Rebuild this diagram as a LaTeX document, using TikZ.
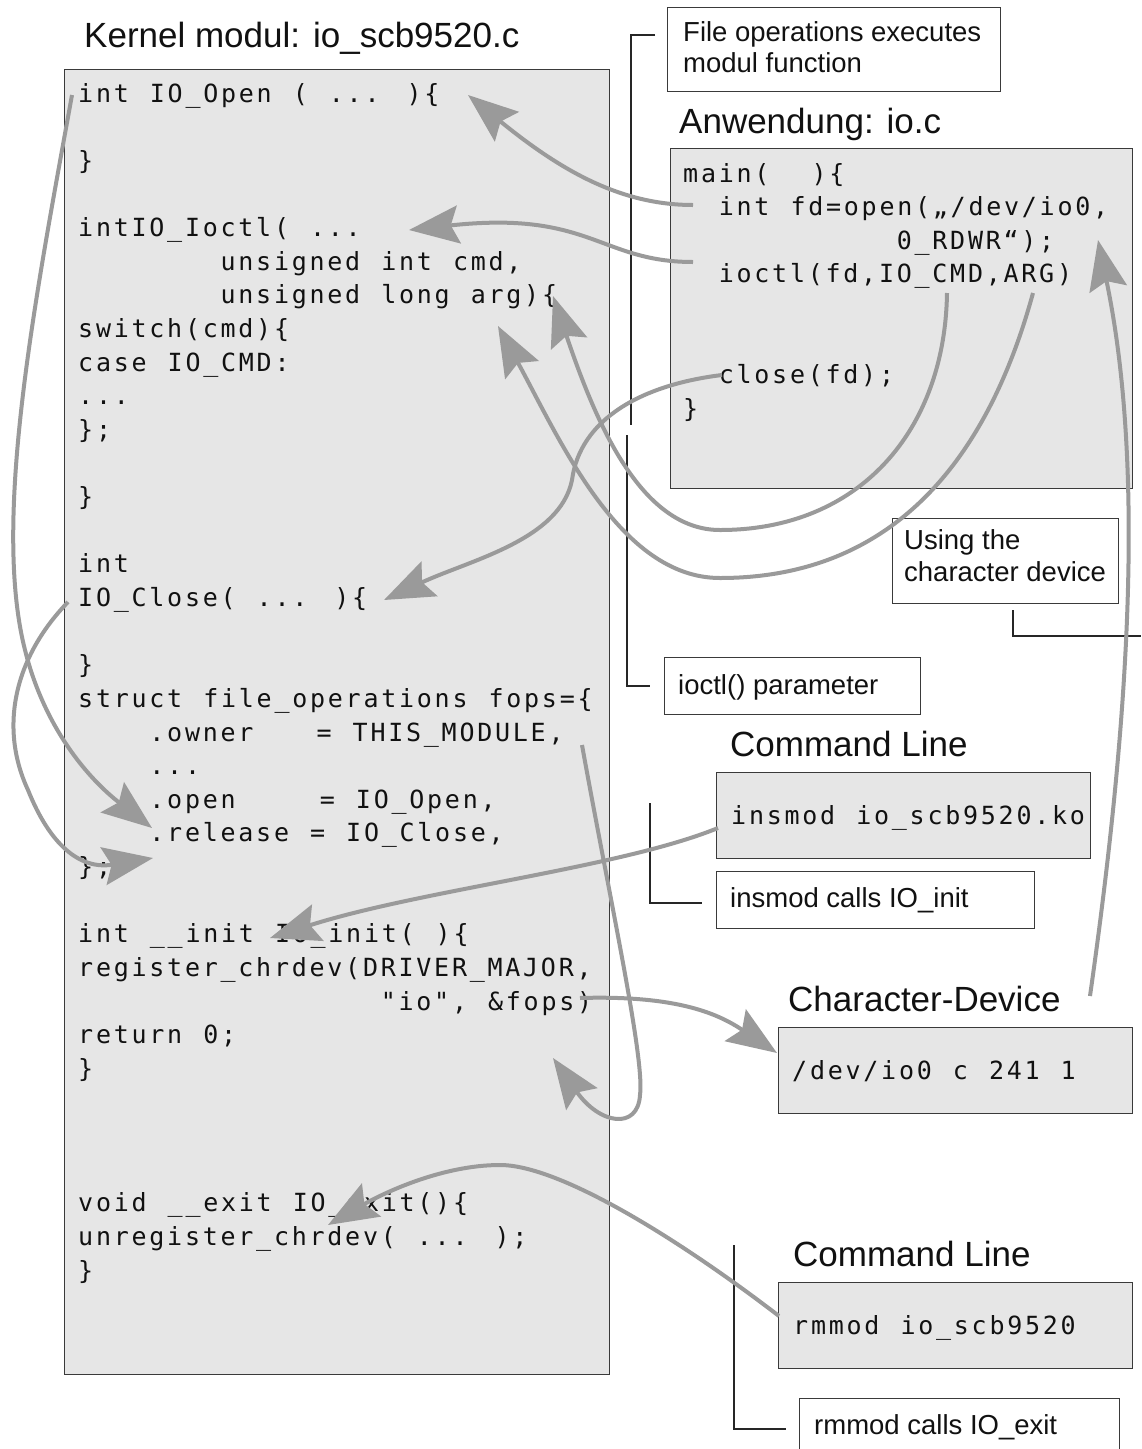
\documentclass[tikz,border=0pt]{standalone}
\usepackage{fontspec}
\setmainfont{Liberation Sans}
\newfontfamily\codefont[LetterSpace=11,WordSpace=1.183]{DejaVu Sans Mono}
\usetikzlibrary{arrows.meta}
\definecolor{boxfill}{HTML}{E6E6E6}
\definecolor{boxline}{HTML}{3A3A3A}
\definecolor{arrowgray}{HTML}{9A9A9A}
\definecolor{txt}{HTML}{111111}
\begin{document}
\begin{tikzpicture}[x=1pt,y=-1pt,
 code/.style={font={\codefont\fontsize{25pt}{30pt}\selectfont}, inner sep=0pt, anchor=base west, text=txt},
 title/.style={font={\fontsize{35pt}{40pt}\selectfont}, inner sep=0pt, anchor=base west, text=txt},
 lbl/.style={font={\fontsize{27.5pt}{32pt}\selectfont}, inner sep=0pt, anchor=base west, text=txt},
 codebox/.style={draw=boxline, line width=1.3pt, fill=boxfill, anchor=north west, inner sep=0pt},
 notebox/.style={draw=boxline, line width=1.3pt, fill=white, anchor=north west, inner sep=0pt},
 callout/.style={draw=black!85, line width=1.2pt},
 flow/.style={draw=arrowgray, line width=4pt, -{Stealth[length=50pt,width=38pt,inset=8pt]}},
]
\useasboundingbox[fill=white] (0,0) rectangle (1141,1449);

% ---------- boxes ----------
\node[codebox, minimum width=545pt, minimum height=1305pt] (kbox) at (64,69) {};
\node[codebox, minimum width=462pt, minimum height=340pt] (abox) at (670,148) {};
\node[notebox, minimum width=333pt, minimum height=84pt] (fobox) at (667,7) {};
\node[notebox, minimum width=226pt, minimum height=85pt] (usebox) at (892,518) {};
\node[notebox, minimum width=256pt, minimum height=57pt] (ioctlbox) at (664,657) {};
\node[codebox, minimum width=374pt, minimum height=86pt] (insbox) at (716,772) {};
\node[notebox, minimum width=318pt, minimum height=57pt] (inscallbox) at (716,871) {};
\node[codebox, minimum width=354pt, minimum height=86pt] (devbox) at (778,1027) {};
\node[codebox, minimum width=354pt, minimum height=86pt] (rmbox) at (778,1282) {};
\node[notebox, minimum width=320pt, minimum height=70pt] (rmcallbox) at (799,1398) {};

% ---------- titles and labels ----------
\node[title] (ktitle) at (84,47) {Kernel modul: io\_scb9520.c};
\node[title] (atitle) at (679,133) {Anwendung: io.c};
\node[title] (cltitle1) at (730,756) {Command Line};
\node[title] (cdtitle) at (788,1011) {Character-Device};
\node[title] (cltitle2) at (793,1266) {Command Line};

\node[lbl] (fo1) at (683,41) {File operations executes};
\node[lbl] (fo2) at (683,72) {modul function};
\node[lbl] (use1) at (904,549) {Using the};
\node[lbl] (use2) at (904,581) {character device};
\node[lbl] (ioctllbl) at (678,694) {ioctl() parameter};
\node[lbl] (inslbl) at (730,907) {insmod calls IO\_init};
\node[lbl] (rmlbl) at (814,1434) {rmmod calls IO\_exit};

% ---------- kernel code (baseline 102 + 33.63 i, column 17.8) ----------
\node[code] (k0) at (78,102) {int IO\_Open ( ... )\{};
\node[code] (k2) at (78,169.3) {\}};
\node[code] (k4) at (78,236.5) {intIO\_Ioctl( ...};
\node[code] (k5) at (220.4,270.2) {unsigned int cmd,};
\node[code] (k6) at (220.4,303.8) {unsigned long arg)\{};
\node[code] (k7) at (78,337.4) {switch(cmd)\{};
\node[code] (k8) at (78,371) {case IO\_CMD:};
\node[code] (k9) at (78,404.7) {...};
\node[code] (k10) at (78,438.3) {\};};
\node[code] (k12) at (78,505.6) {\}};
\node[code] (k14) at (78,572.8) {int};
\node[code] (k15) at (78,606.5) {IO\_Close( ... )\{};
\node[code] (k17) at (78,673.7) {\}};
\node[code] (k18) at (78,707.3) {struct file\_operations fops=\{};
\node[code] (k19) at (149.2,741) {.owner~~~=~THIS\_MODULE,};
\node[code] (k20) at (149.2,774.6) {...};
\node[code] (k21) at (149.2,808.2) {.open~~~~=~IO\_Open,};
\node[code] (k22) at (149.2,841.9) {.release~=~IO\_Close,};
\node[code] (k23) at (78,875.5) {\};};
\node[code] (k25) at (78,942.8) {int \_\_init IO\_init( )\{};
\node[code] (k26) at (78,976.4) {register\_chrdev(DRIVER\_MAJOR,};
\node[code] (k27) at (380.6,1010) {"io", \&fops)};
\node[code] (k28) at (78,1043.6) {return 0;};
\node[code] (k29) at (78,1077.3) {\}};
\node[code] (k33) at (78,1211.8) {void \_\_exit IO\_exit()\{};
\node[code] (k34) at (78,1245.4) {unregister\_chrdev( ... );};
\node[code] (k35) at (78,1279.1) {\}};

% ---------- application code ----------
\node[code] (a0) at (683,182) {main(~~)\{};
\node[code] (a1) at (718.6,215.6) {int fd=open(„/dev/io0,};
\node[code] (a2) at (896.6,249.3) {0\_RDWR“);};
\node[code] (a3) at (718.6,282.9) {ioctl(fd,IO\_CMD,ARG)};
\node[code] (a6) at (718.6,383.8) {close(fd);};
\node[code] (a7) at (683,417.4) {\}};

% ---------- command code ----------
\node[code] (ins) at (731,824) {insmod io\_scb9520.ko};
\node[code] (dev) at (792,1079) {/dev/io0 c 241 1};
\node[code] (rm) at (793,1334) {rmmod io\_scb9520};

% ---------- callout brackets ----------
\coordinate (c1a) at (655,35); \coordinate (c1b) at (631,35); \coordinate (c1c) at (631,425);
\draw[callout] (c1a) -- (c1b) -- (c1c);
\coordinate (c2a) at (627,435); \coordinate (c2b) at (627,686); \coordinate (c2c) at (650,686);
\draw[callout] (c2a) -- (c2b) -- (c2c);
\coordinate (c3a) at (1013,610); \coordinate (c3b) at (1013,636); \coordinate (c3c) at (1141,636);
\draw[callout] (c3a) -- (c3b) -- (c3c);
\coordinate (c4a) at (650,803); \coordinate (c4b) at (650,903); \coordinate (c4c) at (702,903);
\draw[callout] (c4a) -- (c4b) -- (c4c);
\coordinate (c5a) at (734,1245); \coordinate (c5b) at (734,1429); \coordinate (c5c) at (786,1429);
\draw[callout] (c5a) -- (c5b) -- (c5c);

% ---------- gray flow arrows ----------
\coordinate (fAs) at (693,205); \coordinate (fAt) at (468,95);
\draw[flow] (fAs) .. controls (620,205) and (560,170) .. (fAt);
\coordinate (fBs) at (693,262); \coordinate (fBt) at (409,230);
\draw[flow] (fBs) .. controls (600,262) and (590,210) .. (fBt);
\coordinate (fCs) at (947,293); \coordinate (fCm) at (720,530); \coordinate (fCt) at (553,296);
\draw[flow] (fCs) .. controls (945,430) and (860,530) .. (fCm) .. controls (640,530) and (595,420) .. (fCt);
\coordinate (fDs) at (1033,293); \coordinate (fDm) at (720,578); \coordinate (fDt) at (498,326);
\draw[flow] (fDs) .. controls (990,450) and (900,578) .. (fDm) .. controls (620,578) and (560,440) .. (fDt);
\coordinate (fEs) at (722,375); \coordinate (fEm) at (572,480); \coordinate (fEt) at (384,600);
\draw[flow] (fEs) .. controls (640,385) and (580,420) .. (fEm) .. controls (560,540) and (470,560) .. (fEt);
\coordinate (fFs) at (72,95); \coordinate (fFm) at (25,650); \coordinate (fFt) at (152,828);
\draw[flow] (fFs) .. controls (35,300) and (-8,520) .. (fFm) .. controls (45,730) and (90,780) .. (fFt);
\coordinate (fGs) at (68,602); \coordinate (fGm) at (28,790); \coordinate (fGt) at (153,858);
\draw[flow] (fGs) .. controls (12,660) and (0,730) .. (fGm) .. controls (50,845) and (80,870) .. (fGt);
\coordinate (fHs) at (718,828); \coordinate (fHt) at (270,938);
\draw[flow] (fHs) .. controls (620,868) and (420,890) .. (fHt);
\coordinate (fIs) at (582,745); \coordinate (fIm) at (640,1095); \coordinate (fIt) at (553,1058);
\draw[flow] (fIs) .. controls (610,900) and (645,1060) .. (fIm) .. controls (638,1130) and (600,1125) .. (fIt);
\coordinate (fJs) at (580,998); \coordinate (fJt) at (777,1053);
\draw[flow] (fJs) .. controls (680,995) and (720,1015) .. (fJt);
\coordinate (fKs) at (1090,996); \coordinate (fKt) at (1098,240);
\draw[flow] (fKs) .. controls (1125,750) and (1148,480) .. (fKt);
\coordinate (fLs) at (779,1316); \coordinate (fLm) at (500,1165); \coordinate (fLt) at (328,1225);
\draw[flow] (fLs) .. controls (680,1240) and (560,1165) .. (fLm) .. controls (440,1165) and (380,1195) .. (fLt);
\end{tikzpicture}
\end{document}
